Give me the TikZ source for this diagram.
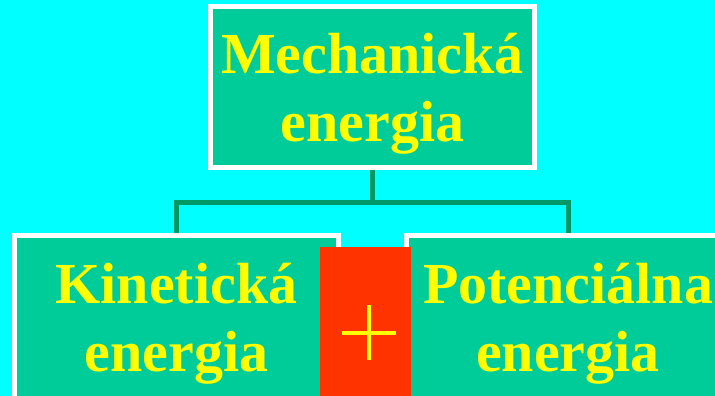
\documentclass[tikz,border=0pt]{standalone}
\usepackage{fontspec}
\setmainfont{Liberation Serif}
\definecolor{bgcyan}{HTML}{00FFFF}
\definecolor{boxgreen}{HTML}{00CC99}
\definecolor{linegreen}{HTML}{009966}
\definecolor{plusred}{HTML}{FF3300}
\definecolor{txtyellow}{HTML}{FFFF00}
\pgfdeclarelayer{background}
\pgfsetlayers{background,main}
\tikzset{
  greenbox/.style={draw=white, line width=5pt, fill=boxgreen, rectangle, inner sep=0pt},
  redbox/.style={fill=plusred, rectangle, inner sep=0pt, minimum width=91pt, minimum height=160pt},
  label text/.style={text=txtyellow, font=\fontsize{58}{68}\selectfont\bfseries, inner sep=0pt, anchor=base},
  conn/.style={draw=linegreen, line width=5pt},
  plusline/.style={draw=txtyellow, line width=4pt}
}
\begin{document}
\begin{tikzpicture}[x=1pt,y=1pt]
\useasboundingbox (0,0) rectangle (715,396);
\clip (0,0) rectangle (715,396);
% boxes
\node[greenbox, minimum width=324pt, minimum height=161pt] (top) at (372.5,309) {};
\node[greenbox, minimum width=324pt, minimum height=181pt] (left) at (176.5,70) {};
\node[greenbox, minimum width=323pt, minimum height=181pt] (right) at (568,70) {};
\coordinate (jn) at (372.5,193.5);
% background and connectors behind the boxes
\begin{pgfonlayer}{background}
\fill[bgcyan] (0,0) rectangle (715,396);
\draw[conn] (top.south) -- (jn);
\draw[conn] (left.north) |- (jn) -| (right.north);
\end{pgfonlayer}
% red plus box
\node[redbox] (plus) at (365.5,69) {};
\draw[plusline] ([xshift=-23.5pt,yshift=-6pt]plus.center) -- ([xshift=30.5pt,yshift=-6pt]plus.center);
\draw[plusline] ([xshift=3.5pt,yshift=21.5pt]plus.center) -- ([xshift=3.5pt,yshift=-33.5pt]plus.center);
% texts
\node[label text] (t1) at (372.5,322) {Mechanická};
\node[label text] (t2) at (372.5,254) {energia};
\node[label text] (k1) at (176.5,92) {Kinetická};
\node[label text] (k2) at (176.5,24) {energia};
\node[label text] (p1) at (568,92) {Potenciálna};
\node[label text] (p2) at (568,24) {energia};
\end{tikzpicture}
\end{document}
